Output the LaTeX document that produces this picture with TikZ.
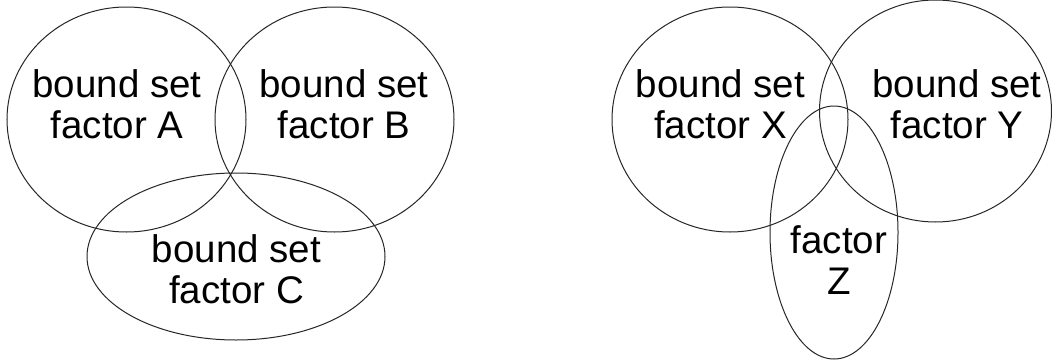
\documentclass[tikz,border=0pt]{standalone}
\usepackage{fontspec}
\setmainfont{Liberation Sans}
\begin{document}
\begin{tikzpicture}[x=1pt,y=-1pt,
  setline/.style={draw=black!85,line width=1pt},
  setlabel/.style={align=center,inner sep=0pt,font=\fontsize{38.5}{41.5}\selectfont}]
\useasboundingbox (0,0) rectangle (1052,364);

% left diagram: three bound set factors
\draw[setline] (126.5,119.5) ellipse (119.5 and 112.5);
\draw[setline] (334.5,119.5) ellipse (119.5 and 112.5);
\draw[setline] (236,256.5) ellipse (149 and 83.5);
\node[setlabel] (la) at (117,104.3) {bound set\\factor A};
\node[setlabel] (lb) at (344,104.3) {bound set\\factor B};
\node[setlabel] (lc) at (236.5,269) {bound set\\factor C};

% right diagram: two bound set factors and a free factor
\draw[setline] (730,119.5) ellipse (118 and 112.5);
\draw[setline] (935.5,111) ellipse (116 and 111);
\draw[setline] (834,232.5) ellipse (64 and 126.5);
\node[setlabel] (lx) at (720.5,104) {bound set\\factor X};
\node[setlabel] (ly) at (957,104) {bound set\\factor Y};
\node[setlabel] (lz) at (839,260) {factor\\Z};
\end{tikzpicture}
\end{document}
